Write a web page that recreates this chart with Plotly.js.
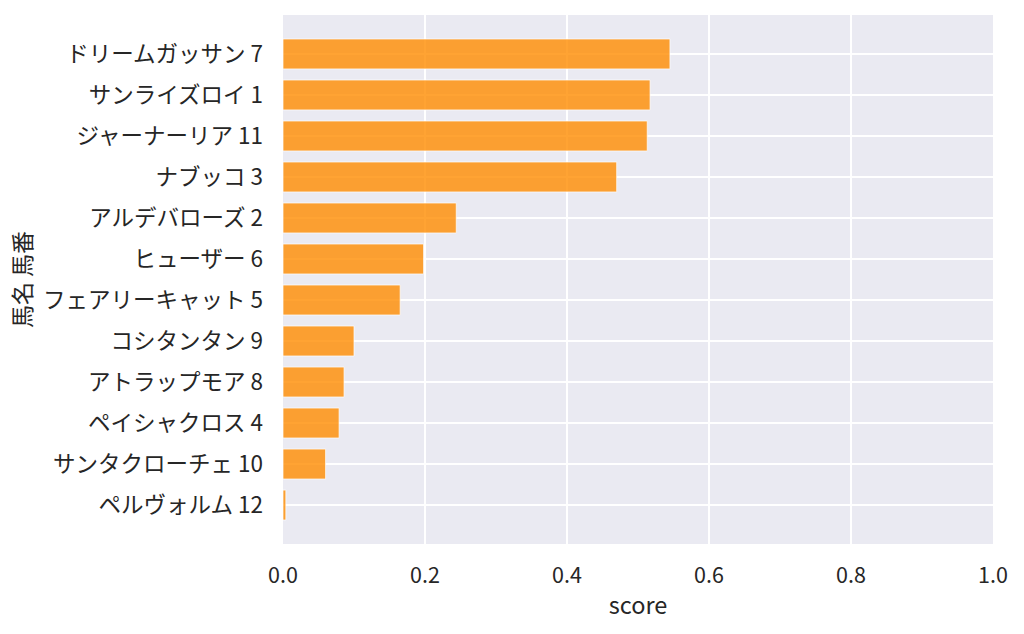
<!DOCTYPE html>
<html>
<head>
<meta charset="utf-8">
<script src="https://cdn.plot.ly/plotly-3.0.1.min.js"></script>
<style>
  html, body { margin: 0; padding: 0; background: #fff; }
  #chart { width: 1024px; height: 634px; }
</style>
</head>
<body>
<div id="chart"></div>
<script>
// horse name + horse number, top to bottom
const horseLabels = [
  'ドリームガッサン 7',
  'サンライズロイ 1',
  'ジャーナーリア 11',
  'ナブッコ 3',
  'アルデバローズ 2',
  'ヒューザー 6',
  'フェアリーキャット 5',
  'コシタンタン 9',
  'アトラップモア 8',
  'ペイシャクロス 4',
  'サンタクローチェ 10',
  'ペルヴォルム 12'
];
const scores = [0.545, 0.517, 0.513, 0.470, 0.244, 0.198, 0.165, 0.100, 0.086, 0.079, 0.060, 0.004];
const xTicks = [0, 0.2, 0.4, 0.6, 0.8, 1.0];

const textColor = '#262626';
const font = 'Noto Sans CJK JP, Noto Sans, sans-serif';

const trace = {
  type: 'bar',
  orientation: 'h',
  x: scores,
  y: horseLabels,
  width: 0.73,
  marker: {
    color: 'rgba(255,140,0,0.8)',
    line: { color: 'rgba(255,255,255,0.7)', width: 1 }
  },
  hoverinfo: 'x+y'
};

const layout = {
  width: 1024,
  height: 634,
  margin: { l: 283, r: 31, t: 15, b: 90 },
  paper_bgcolor: '#ffffff',
  plot_bgcolor: '#EAEAF2',
  font: { family: font, color: textColor, size: 21 },
  showlegend: false,
  bargap: 0,
  xaxis: {
    range: [0, 1],
    tickvals: xTicks,
    tickformat: '.1f',
    showgrid: true,
    gridcolor: '#ffffff',
    gridwidth: 1.5,
    zeroline: false,
    showline: false,
    ticks: '',
    ticklabelstandoff: 16,
    tickfont: { size: 21.5 },
    title: { text: 'score', font: { size: 23.5 }, standoff: 10 }
  },
  yaxis: {
    type: 'category',
    categoryorder: 'array',
    categoryarray: horseLabels,
    range: [11.95, -0.95],
    autorange: false,
    automargin: true,
    showgrid: true,
    gridcolor: '#ffffff',
    gridwidth: 1.5,
    zeroline: false,
    showline: false,
    ticks: '',
    ticklabelstandoff: 19,
    tickfont: { size: 22.5 },
    title: { text: '馬名 馬番', font: { size: 23 }, standoff: 4 }
  }
};

Plotly.newPlot('chart', [trace], layout, { displayModeBar: false, staticPlot: true });
</script>
</body>
</html>
